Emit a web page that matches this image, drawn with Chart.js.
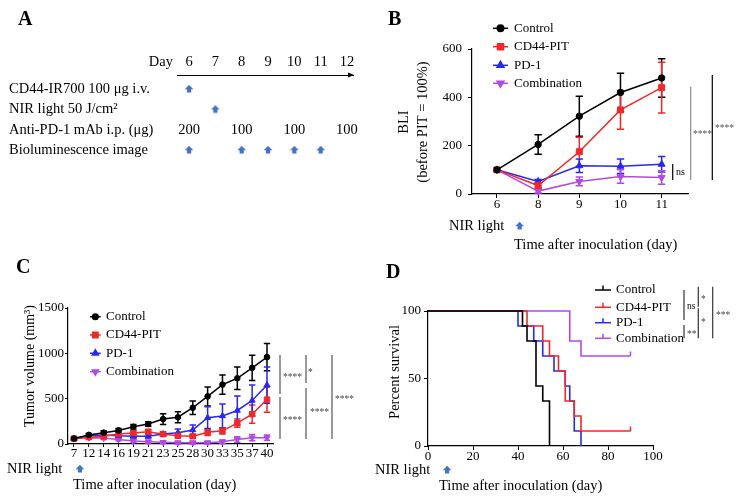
<!DOCTYPE html>
<html>
<head>
<meta charset="utf-8">
<script src="https://cdn.jsdelivr.net/npm/chart.js@4.4.0/dist/chart.umd.min.js"></script>
<style>
  html, body { margin: 0; padding: 0; background: #fff; }
  #page { position: relative; width: 742px; height: 501px; overflow: hidden; }
  .panel { position: absolute; }
</style>
</head>
<body>
<div id="page">
  <div class="panel" style="left:0;top:0"><canvas id="panelA" width="371" height="250"></canvas></div>
  <div class="panel" style="left:371px;top:0"><canvas id="panelB" width="371" height="258"></canvas></div>
  <div class="panel" style="left:0;top:250px"><canvas id="panelC" width="371" height="251"></canvas></div>
  <div class="panel" style="left:371px;top:250px"><canvas id="panelD" width="371" height="251"></canvas></div>
</div>
<script>
// ---- data ----
const groups = ['Control', 'CD44-PIT', 'PD-1', 'Combination'];

// A: treatment schedule
const scheduleDays = [6, 7, 8, 9, 10, 11, 12];
const scheduleRows = ['CD44-IR700 100 μg i.v.', 'NIR light 50 J/cm²', 'Anti-PD-1 mAb i.p. (μg)', 'Bioluminescence image'];
const cd44Days = [6];
const nirDays = [7];
const pd1Days = [6, 8, 10, 12];
const pd1Doses = ['200', '100', '100', '100'];
const imagingDays = [6, 8, 9, 10, 11];

// B: BLI (before PIT = 100%)
const bliDays = ['6', '8', '9', '10', '11'];
const bliTicks = [0, 200, 400, 600];
const bliControl = [100, 205, 322, 420, 480];
const bliControlErr = [0, 40, 83, 80, 80];
const bliPit = [100, 35, 175, 348, 440];
const bliPitErr = [0, 10, 60, 80, 105];
const bliPd1 = [100, 52, 117, 115, 123];
const bliPd1Err = [0, 8, 28, 30, 32];
const bliCombo = [100, 12, 52, 72, 68];
const bliComboErr = [0, 8, 18, 28, 28];

// C: tumor volume
const tumorDays = ['7', '12', '14', '16', '19', '21', '23', '25', '28', '30', '33', '35', '37', '40'];
const tumorTicks = [0, 500, 1000, 1500];
const tumorControl = [60, 100, 125, 150, 190, 220, 275, 295, 400, 525, 655, 725, 840, 958];
const tumorControlErr = [15, 15, 20, 20, 25, 25, 60, 60, 75, 105, 105, 125, 140, 150];
const tumorPit = [60, 75, 85, 110, 120, 135, 108, 90, 85, 130, 145, 230, 330, 490];
const tumorPitErr = [10, 15, 15, 20, 25, 25, 20, 20, 20, 35, 35, 45, 100, 140];
const tumorPd1 = [60, 95, 100, 90, 85, 85, 110, 125, 155, 290, 310, 370, 480, 650];
const tumorPd1Err = [10, 15, 15, 20, 20, 20, 25, 40, 55, 120, 130, 160, 170, 200];
const tumorCombo = [60, 70, 65, 50, 32, 25, 20, 15, 15, 15, 25, 50, 70, 70];
const tumorComboErr = [10, 15, 15, 15, 15, 15, 15, 15, 15, 15, 20, 30, 35, 30];

// D: survival
const survTicksX = [0, 20, 40, 60, 80, 100];
const survTicksY = [0, 50, 100];
const survControlDays = [0, 42, 44, 48, 51, 54];
const survControlPct = [100, 88.9, 77.8, 44.4, 33.3, 0];
const survPitDays = [0, 44, 51, 54, 58, 61, 65, 68, 90];
const survPitPct = [100, 88.9, 77.8, 66.7, 55.6, 33.3, 22.2, 11.1, 11.1];
const survPd1Days = [0, 40, 47, 51, 56, 61, 63, 65, 68];
const survPd1Pct = [100, 88.9, 77.8, 66.7, 55.6, 44.4, 33.3, 11.1, 0];
const survComboDays = [0, 63, 68, 90];
const survComboPct = [100, 77.8, 66.7, 66.7];

// ---- style ----
const serif = "'Liberation Serif', 'Times New Roman', serif";
const colors = ['#000000', '#f02828', '#2828f0', '#b04ae6'];
const arrowBlue = '#4472c4';
Chart.defaults.font.family = serif;
Chart.defaults.font.size = 13;
Chart.defaults.color = '#000';

function put(ctx, str, x, y, size, opts = {}) {
  ctx.save();
  ctx.font = (opts.bold ? 'bold ' : '') + size + 'px ' + serif;
  ctx.fillStyle = opts.color || '#000';
  ctx.textAlign = opts.align || 'left';
  ctx.textBaseline = opts.baseline || 'middle';
  ctx.translate(x, y);
  if (opts.rotate) ctx.rotate(opts.rotate);
  ctx.fillText(str, 0, 0);
  ctx.restore();
}

function vline(ctx, x, y1, y2, color) {
  ctx.save();
  ctx.strokeStyle = color || '#000';
  ctx.lineWidth = 1.2;
  ctx.beginPath(); ctx.moveTo(x, y1); ctx.lineTo(x, y2); ctx.stroke();
  ctx.restore();
}

function arrowUp(ctx, cx, cy) {
  ctx.save();
  ctx.fillStyle = arrowBlue;
  ctx.beginPath();
  ctx.moveTo(cx, cy - 4.2);
  ctx.lineTo(cx + 4.3, cy + 0.2);
  ctx.lineTo(cx + 2.1, cy + 0.2);
  ctx.lineTo(cx + 2.1, cy + 3.6);
  ctx.lineTo(cx - 2.1, cy + 3.6);
  ctx.lineTo(cx - 2.1, cy + 0.2);
  ctx.lineTo(cx - 4.3, cy + 0.2);
  ctx.closePath();
  ctx.fill();
  ctx.restore();
}

// arrow image used as point style in panel A
const arrowImg = document.createElement('canvas');
arrowImg.width = 12; arrowImg.height = 10;
arrowUp(arrowImg.getContext('2d'), 6, 5);

// censor tick images for survival curves
function tickImg(color) {
  const c = document.createElement('canvas');
  c.width = 3; c.height = 10;
  const g = c.getContext('2d');
  g.strokeStyle = color; g.lineWidth = 1.5;
  g.beginPath(); g.moveTo(1.5, 0.5); g.lineTo(1.5, 5); g.stroke();
  return c;
}

function decor(draw) {
  return { id: 'decor', afterDraw(chart) { const ctx = chart.ctx; ctx.save(); draw(ctx, chart); ctx.restore(); } };
}

const errorBars = {
  id: 'errorBars',
  beforeDatasetsDraw(chart, args, opts) {
    const ctx = chart.ctx, ys = chart.scales.y;
    chart.data.datasets.forEach((ds, di) => {
      if (!ds.errors) return;
      const meta = chart.getDatasetMeta(di);
      ctx.save();
      ctx.strokeStyle = ds.borderColor;
      ctx.lineWidth = 1.5;
      meta.data.forEach((pt, i) => {
        const e = ds.errors[i];
        if (!e) return;
        const v = ds.data[i].y;
        const top = ys.getPixelForValue(v + e), bot = ys.getPixelForValue(v - e);
        ctx.beginPath();
        ctx.moveTo(pt.x, top); ctx.lineTo(pt.x, bot);
        ctx.moveTo(pt.x - opts.cap, top); ctx.lineTo(pt.x + opts.cap, top);
        ctx.moveTo(pt.x - opts.cap, bot); ctx.lineTo(pt.x + opts.cap, bot);
        ctx.stroke();
      });
      ctx.restore();
    });
  }
};

function drawLegend(ctx, chart, x1, x2, tx, rows, censor) {
  chart.data.datasets.forEach((ds, i) => {
    const y = rows[i], xm = (x1 + x2) / 2;
    ctx.strokeStyle = ds.borderColor;
    ctx.fillStyle = ds.borderColor;
    ctx.lineWidth = 1.5;
    ctx.beginPath(); ctx.moveTo(x1, y); ctx.lineTo(x2, y); ctx.stroke();
    if (censor) {
      ctx.beginPath(); ctx.moveTo(xm, y); ctx.lineTo(xm, y - 4.5); ctx.stroke();
    } else {
      Chart.helpers.drawPoint(ctx, {
        pointStyle: ds.pointStyle, rotation: ds.pointRotation || 0,
        radius: ds.pointRadius, borderWidth: 1
      }, xm, y);
    }
    put(ctx, groups[i], tx, y, 13);
  });
}

const axisGrid = len => ({ display: true, drawOnChartArea: false, drawTicks: true, tickLength: len, color: '#000', lineWidth: 1 });
const axisBorder = { display: true, color: '#000', width: 1.2 };
const plainNum = v => String(v);

function lineSet(i, values, errors, style, radius, rotation) {
  return {
    label: groups[i],
    data: values.map((v, k) => ({ x: k, y: v })),
    errors: errors,
    borderColor: colors[i],
    backgroundColor: colors[i],
    borderWidth: 1.5,
    pointStyle: style,
    pointRadius: radius,
    pointRotation: rotation || 0,
    pointBorderWidth: 1,
    clip: false
  };
}

// ---- Panel A ----
new Chart(document.getElementById('panelA'), {
  type: 'scatter',
  data: {
    datasets: [
      { data: cd44Days.map(d => ({ x: d, y: 0 })), pointStyle: arrowImg, pointRadius: 4 },
      { data: nirDays.map(d => ({ x: d, y: 1 })), pointStyle: arrowImg, pointRadius: 4 },
      { data: pd1Days.map(d => ({ x: d, y: 2 })), pointRadius: 0, doses: pd1Doses },
      { data: imagingDays.map(d => ({ x: d, y: 3 })), pointStyle: arrowImg, pointRadius: 4 }
    ]
  },
  options: {
    responsive: false, animation: false, events: [],
    layout: { padding: { left: 9, top: 40, right: 18, bottom: 90 } },
    plugins: { legend: { display: false }, tooltip: { enabled: false } },
    scales: {
      x: {
        type: 'linear', position: 'top', min: 5.544, max: 12.228,
        afterBuildTicks: s => { s.ticks = scheduleDays.map(v => ({ value: v })); },
        afterFit: s => { s.height = 35; },
        grid: { display: false, drawTicks: false },
        border: { display: true, color: '#000', width: 1 },
        ticks: { font: { size: 14.5, lineHeight: 1 }, padding: 6, maxRotation: 0, autoSkip: false, callback: plainNum }
      },
      y: {
        type: 'linear', reverse: true, min: -0.69, max: 3.49,
        afterBuildTicks: s => { s.ticks = scheduleRows.map((r, i) => ({ value: i })); },
        afterFit: s => { s.width = 168; },
        grid: { display: false, drawTicks: false },
        border: { display: false },
        ticks: { crossAlign: 'far', font: { size: 14.5 }, padding: 0, callback: v => scheduleRows[v] }
      }
    }
  },
  plugins: [decor((ctx, chart) => {
    put(ctx, 'A', 18, 25, 20, { bold: true, baseline: 'alphabetic' });
    put(ctx, 'Day', 173, 62, 14.5, { align: 'right' });
    const a = chart.chartArea;
    ctx.fillStyle = '#000';
    ctx.beginPath();
    ctx.moveTo(a.right + 1, a.top);
    ctx.lineTo(a.right - 5, a.top - 2.5);
    ctx.lineTo(a.right - 5, a.top + 2.5);
    ctx.closePath(); ctx.fill();
    const meta = chart.getDatasetMeta(2);
    meta.data.forEach((pt, i) => put(ctx, pd1Doses[i], pt.x, pt.y, 14.5, { align: 'center' }));
  })]
});

// ---- Panel B ----
new Chart(document.getElementById('panelB'), {
  type: 'line',
  data: {
    datasets: [
      lineSet(0, bliControl, bliControlErr, 'circle', 3.2),
      lineSet(1, bliPit, bliPitErr, 'rect', 4.2),
      lineSet(2, bliPd1, bliPd1Err, 'triangle', 4),
      lineSet(3, bliCombo, bliComboErr, 'triangle', 4, 180)
    ]
  },
  options: {
    responsive: false, animation: false, events: [],
    layout: { padding: { left: 0, top: 49, right: 54, bottom: 8 } },
    plugins: { legend: { display: false }, tooltip: { enabled: false }, errorBars: { cap: 3.7 } },
    scales: {
      x: {
        type: 'linear', min: -0.607, max: 4.64,
        afterBuildTicks: s => { s.ticks = bliDays.map((d, i) => ({ value: i })); },
        afterFit: s => { s.height = 56; },
        grid: axisGrid(4), border: axisBorder,
        ticks: { padding: 0.5, font: { size: 13, lineHeight: 1 }, maxRotation: 0, autoSkip: false, callback: v => bliDays[v] }
      },
      y: {
        min: 0, max: 600,
        afterBuildTicks: s => { s.ticks = bliTicks.map(v => ({ value: v })); },
        afterFit: s => { s.width = 101; },
        grid: axisGrid(4), border: axisBorder,
        ticks: { padding: 6, font: { size: 13 }, callback: plainNum }
      }
    }
  },
  plugins: [errorBars, decor((ctx, chart) => {
    put(ctx, 'B', 17, 25, 20, { bold: true, baseline: 'alphabetic' });
    put(ctx, 'BLI', 33, 122, 14.5, { align: 'center', rotate: -Math.PI / 2 });
    put(ctx, '(before PIT = 100%)', 51.7, 122, 14.5, { align: 'center', rotate: -Math.PI / 2 });
    put(ctx, 'NIR light', 78, 226, 14.5);
    arrowUp(ctx, chart.scales.x.getPixelForValue(0.55), 226);
    put(ctx, 'Time after inoculation (day)', 143, 245, 14.5);
    drawLegend(ctx, chart, 122, 137, 143, [28.3, 46.7, 65.3, 83.3]);
    // significance
    vline(ctx, 301.7, 164, 180, '#000');
    put(ctx, 'ns', 305, 172.7, 10);
    vline(ctx, 319.7, 86.7, 180, '#8a8a8a');
    put(ctx, '****', 322, 134, 9.5, { color: '#555' });
    vline(ctx, 341.3, 75, 180, '#000');
    put(ctx, '****', 344, 128, 9.5, { color: '#555' });
  })]
});

// ---- Panel C ----
new Chart(document.getElementById('panelC'), {
  type: 'line',
  data: {
    datasets: [
      lineSet(0, tumorControl, tumorControlErr, 'circle', 2.8),
      lineSet(1, tumorPit, tumorPitErr, 'rect', 3.8),
      lineSet(2, tumorPd1, tumorPd1Err, 'triangle', 3.5),
      lineSet(3, tumorCombo, tumorComboErr, 'triangle', 3.5, 180)
    ]
  },
  options: {
    responsive: false, animation: false, events: [],
    layout: { padding: { left: 0, top: 58, right: 98, bottom: 0 } },
    plugins: { legend: { display: false }, tooltip: { enabled: false }, errorBars: { cap: 3.2 } },
    scales: {
      x: {
        type: 'linear', min: -0.404, max: 13.404,
        afterBuildTicks: s => { s.ticks = tumorDays.map((d, i) => ({ value: i })); },
        afterFit: s => { s.height = 57; },
        grid: axisGrid(3), border: axisBorder,
        ticks: { padding: 0, font: { size: 13, lineHeight: 1 }, maxRotation: 0, autoSkip: false, callback: v => tumorDays[v] }
      },
      y: {
        min: 0, max: 1500,
        afterBuildTicks: s => { s.ticks = tumorTicks.map(v => ({ value: v })); },
        afterFit: s => { s.width = 68; },
        grid: axisGrid(3), border: axisBorder,
        ticks: { padding: 1, font: { size: 13 }, callback: plainNum }
      }
    }
  },
  plugins: [errorBars, decor((ctx, chart) => {
    put(ctx, 'C', 16, 23, 20, { bold: true, baseline: 'alphabetic' });
    put(ctx, 'Tumor volume (mm³)', 30, 116, 14, { align: 'center', rotate: -Math.PI / 2 });
    put(ctx, 'NIR light', 7, 219, 14.5);
    arrowUp(ctx, chart.scales.x.getPixelForValue(0.4), 219);
    put(ctx, 'Time after inoculation (day)', 73, 235, 14.5);
    drawLegend(ctx, chart, 90, 100.7, 106, [66.7, 85, 103.3, 121.7]);
    // significance
    vline(ctx, 280, 105, 144, '#555');
    vline(ctx, 280, 147, 189, '#555');
    put(ctx, '****', 283, 127, 9.5, { color: '#444' });
    put(ctx, '****', 283, 170, 9.5, { color: '#444' });
    vline(ctx, 306, 105, 133, '#555');
    vline(ctx, 306, 138, 189, '#555');
    put(ctx, '*', 308, 122, 9.5, { color: '#444' });
    put(ctx, '****', 310, 162, 9.5, { color: '#444' });
    vline(ctx, 332, 105, 189, '#555');
    put(ctx, '****', 335, 149, 9.5, { color: '#444' });
  })]
});

// ---- Panel D ----
function survSet(i, days, pct, censored) {
  const last = days.length - 1;
  return {
    label: groups[i],
    data: days.map((d, k) => ({ x: d, y: pct[k] })),
    borderColor: colors[i],
    backgroundColor: colors[i],
    borderWidth: 1.6,
    stepped: 'before',
    pointStyle: tickImg(colors[i]),
    pointRadius: days.map((d, k) => (censored && k === last ? 4 : 0)),
    clip: false
  };
}

new Chart(document.getElementById('panelD'), {
  type: 'line',
  data: {
    datasets: [
      survSet(0, survControlDays, survControlPct, false),
      survSet(1, survPitDays, survPitPct, true),
      survSet(2, survPd1Days, survPd1Pct, false),
      survSet(3, survComboDays, survComboPct, true)
    ]
  },
  options: {
    responsive: false, animation: false, events: [],
    layout: { padding: { left: 0, top: 61, right: 89, bottom: 0 } },
    plugins: { legend: { display: false }, tooltip: { enabled: false } },
    scales: {
      x: {
        type: 'linear', min: 0, max: 100,
        afterBuildTicks: s => { s.ticks = survTicksX.map(v => ({ value: v })); },
        afterFit: s => { s.height = 55; },
        grid: axisGrid(4), border: axisBorder,
        ticks: { padding: 0.5, font: { size: 13, lineHeight: 1 }, maxRotation: 0, autoSkip: false, callback: plainNum }
      },
      y: {
        min: 0, max: 100,
        afterBuildTicks: s => { s.ticks = survTicksY.map(v => ({ value: v })); },
        afterFit: s => { s.width = 57; },
        grid: axisGrid(4), border: axisBorder,
        ticks: { padding: 3, font: { size: 13 }, callback: plainNum }
      }
    }
  },
  plugins: [decor((ctx, chart) => {
    put(ctx, 'D', 15, 28, 20, { bold: true, baseline: 'alphabetic' });
    put(ctx, 'Percent survival', 24, 122, 14.5, { align: 'center', rotate: -Math.PI / 2 });
    put(ctx, 'NIR light', 4, 220, 14.5);
    arrowUp(ctx, chart.scales.x.getPixelForValue(8.5), 220);
    put(ctx, 'Time after inoculation (day)', 68, 236, 14.5);
    drawLegend(ctx, chart, 224, 240, 245, [40, 57.3, 72.7, 88.3], true);
    // significance
    vline(ctx, 313, 40, 70, '#333');
    put(ctx, 'ns', 316, 56, 9.5);
    vline(ctx, 313, 75, 88.3, '#333');
    put(ctx, '**', 316, 84, 9.5, { color: '#444' });
    vline(ctx, 327.3, 36.7, 56.7, '#333');
    vline(ctx, 327.3, 58.3, 88.3, '#333');
    put(ctx, '*', 330, 49, 9.5, { color: '#444' });
    put(ctx, '*', 330, 72, 9.5, { color: '#444' });
    vline(ctx, 341.7, 36.7, 88.3, '#333');
    put(ctx, '***', 345, 65, 9.5, { color: '#444' });
  })]
});
</script>
</body>
</html>
